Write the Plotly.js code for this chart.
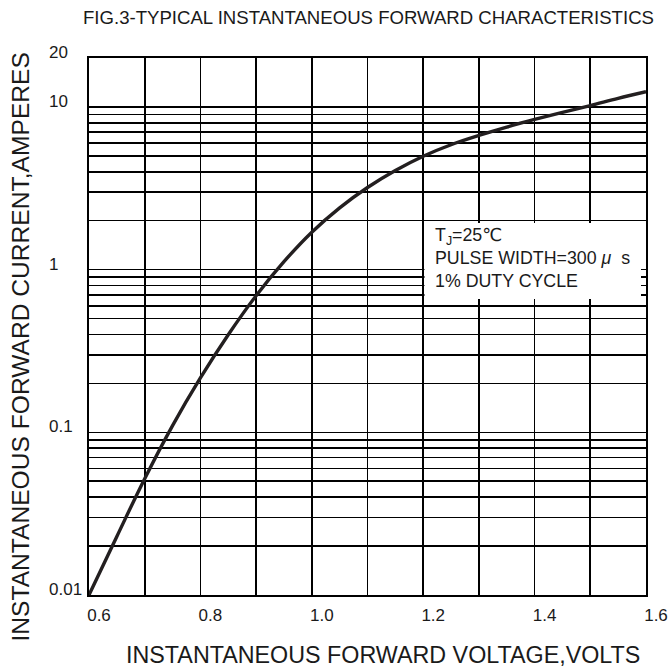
<!DOCTYPE html>
<html>
<head>
<meta charset="utf-8">
<script src="https://cdn.plot.ly/plotly-3.0.1.min.js"></script>
<style>
html,body{margin:0;padding:0;background:#fff;}
#chart{width:671px;height:671px;}
</style>
</head>
<body>
<div id="chart"></div>
<script>
// ---- data (forward current at each voltage) ----
var voltage = [0.60, 0.65, 0.70, 0.75, 0.80, 0.85, 0.90, 0.95, 1.00, 1.05, 1.10,
               1.15, 1.20, 1.25, 1.30, 1.35, 1.40, 1.45, 1.50, 1.55, 1.60];
var current = [0.0100, 0.0229, 0.0519, 0.110, 0.216, 0.398, 0.692, 1.12, 1.70, 2.40, 3.20,
               4.07, 4.98, 5.86, 6.68, 7.52, 8.38, 9.27, 10.2, 11.3, 12.4];

var xTickVals = [0.6, 0.8, 1.0, 1.2, 1.4, 1.6];
var xTickText = ["0.6", "0.8", "1.0", "1.2", "1.4", "1.6"];

var yGridVals = [0.01,0.02,0.03,0.04,0.05,0.06,0.07,0.08,0.09,
                 0.1,0.2,0.3,0.4,0.5,0.6,0.7,0.8,0.9,
                 1,2,3,4,5,6,7,8,9,10];
var yLabelVals = [20, 10, 1, 0.1, 0.01];
var yLabelText = ["20", "10", "1", "0.1", "0.01"];

var titleText = "FIG.3-TYPICAL INSTANTANEOUS FORWARD CHARACTERISTICS";
var xTitleText = "INSTANTANEOUS FORWARD VOLTAGE,VOLTS";
var yTitleText = "INSTANTANEOUS FORWARD CURRENT,AMPERES";
var noteLines = ["T<sub>J</sub>=25\u2103", "PULSE WIDTH=300 <i>\u03bc</i>&nbsp; s", "1% DUTY CYCLE"];

// ---- layout geometry ----
var W = 671, H = 671;
var L = 89, R = 646, T = 58, B = 595;
var pw = R - L, ph = B - T;
function px(xp){ return (xp - L) / pw; }
function py(yp){ return (B - yp) / ph; }

var FONT = "Liberation Sans, Arial, DejaVu Sans, sans-serif";
var INK = "#1a1a1a";

var annotations = [];
for (var i = 0; i < yLabelVals.length; i++) {
  annotations.push({
    xref: "paper", yref: "y",
    x: px(47), y: Math.log10(yLabelVals[i]),
    xanchor: "left", yanchor: "bottom",
    yshift: -6,
    text: yLabelText[i], showarrow: false,
    font: {family: FONT, size: 17, color: INK}
  });
}
annotations.push({
  xref: "paper", yref: "paper",
  x: px(382.5), y: py(655),
  xanchor: "center", yanchor: "middle",
  text: xTitleText, showarrow: false,
  font: {family: FONT, size: 23.3, color: INK}
});
annotations.push({
  xref: "paper", yref: "paper",
  x: px(20), y: py(347.5),
  xanchor: "center", yanchor: "middle",
  textangle: -90,
  text: yTitleText, showarrow: false,
  font: {family: FONT, size: 24.6, color: INK}
});
annotations.push({
  xref: "paper", yref: "paper",
  x: px(433), y: py(258),
  xanchor: "left", yanchor: "middle",
  align: "left",
  text: noteLines.join("<br>"), showarrow: false,
  font: {family: FONT, size: 17.8, color: INK}
});

var trace = {
  x: voltage, y: current,
  type: "scatter", mode: "lines",
  line: {color: "#231f20", width: 3.4, shape: "spline", smoothing: 1},
  hoverinfo: "skip"
};

var layout = {
  width: W, height: H,
  margin: {l: L, r: W - R, t: T, b: H - B, pad: 0},
  paper_bgcolor: "#ffffff",
  plot_bgcolor: "#ffffff",
  showlegend: false,
  title: {
    text: titleText,
    xref: "container", yref: "container",
    x: 368.5 / W, y: 1 - 17 / H,
    xanchor: "center", yanchor: "middle",
    font: {family: FONT, size: 18.6, color: INK}
  },
  xaxis: {
    type: "linear",
    range: [0.6, 1.6],
    tickmode: "array",
    tickvals: xTickVals,
    ticktext: xTickText,
    ticks: "",
    showgrid: true, gridcolor: "#000000", gridwidth: 1.6,
    minor: {dtick: 0.1, showgrid: true, gridcolor: "#000000", gridwidth: 1.6, ticks: ""},
    zeroline: false,
    showline: true, mirror: true, linecolor: "#000000", linewidth: 2.2,
    ticklabelshift: 10,
    ticklabelstandoff: 3,
    tickfont: {family: FONT, size: 17, color: INK},
    fixedrange: true
  },
  yaxis: {
    type: "log",
    range: [-2, Math.log10(20)],
    tickmode: "array",
    tickvals: yGridVals,
    showticklabels: false,
    ticks: "",
    showgrid: true, gridcolor: "#000000", gridwidth: 1.6,
    zeroline: false,
    showline: true, mirror: true, linecolor: "#000000", linewidth: 2.2,
    fixedrange: true
  },
  shapes: [{
    type: "rect", xref: "paper", yref: "paper", layer: "above",
    x0: px(424.5), x1: px(641), y0: py(299), y1: py(223),
    fillcolor: "#ffffff", line: {width: 0}
  }],
  annotations: annotations
};

Plotly.newPlot("chart", [trace], layout, {staticPlot: true, displayModeBar: false});
</script>
</body>
</html>
